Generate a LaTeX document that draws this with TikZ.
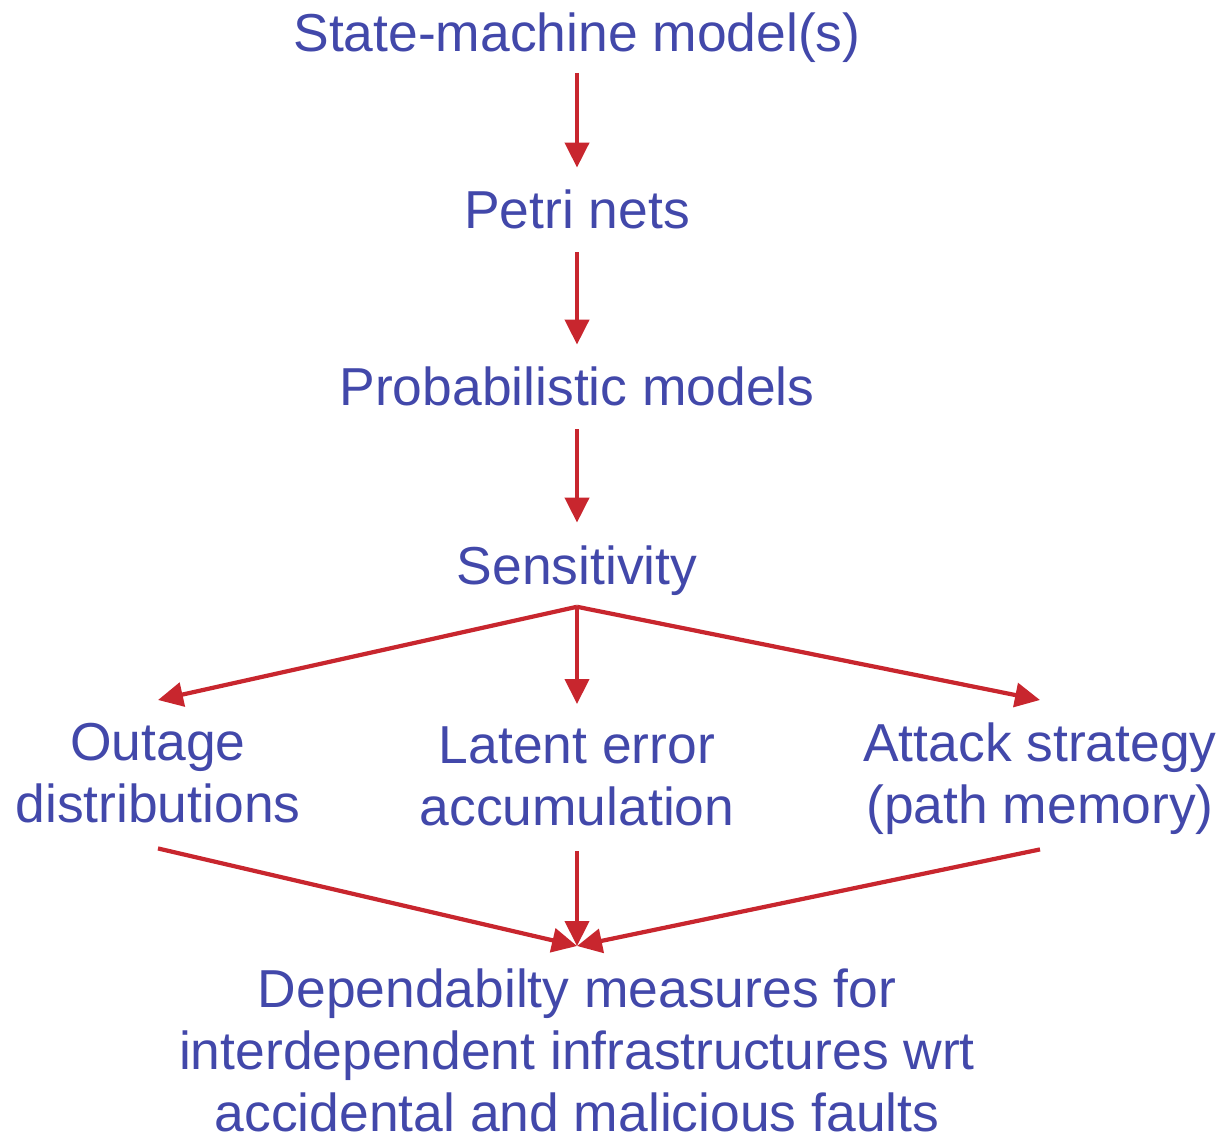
\documentclass[tikz,border=0pt]{standalone}
\usepackage{fontspec}
\setmainfont{Liberation Sans}
\usepackage{xcolor}
\usepackage{tikz}
\usetikzlibrary{arrows.meta}

\definecolor{txtblue}{RGB}{66,72,170}
\definecolor{arrred}{RGB}{200,38,46}

\begin{document}
\begin{tikzpicture}[
    lbl/.style={text=txtblue, inner sep=0pt, align=center, font=\fontsize{15.2}{17.7}\selectfont},
    arr/.style={draw=arrred, line width=1.2pt, -{Triangle[width=0.24cm,length=0.25cm]}},
    gap/.style={shorten <=0.22cm, shorten >=0.22cm}
  ]
      \useasboundingbox (0,0) rectangle (12.22,-11.38);

      % Chain of models
      \node[lbl, anchor=base] (sm) at (5.77,-0.52) {State-machine model(s)};
      \node[lbl, anchor=base] (pn) at (5.77,-2.29) {Petri nets};
      \node[lbl, anchor=base] (pm) at (5.77,-4.06) {Probabilistic models};
      \node[lbl, anchor=base] (sens) at (5.77,-5.84) {Sensitivity};

      % Three branches
      \node[lbl, anchor=north] (out) at (1.58,-7.22) {Outage\\distributions};
      \node[lbl, anchor=north] (lat) at (5.77,-7.26) {Latent error\\accumulation};
      \node[lbl, anchor=north] (att) at (10.40,-7.22) {Attack strategy\\(path memory)};

      % Result
      \node[lbl, anchor=north] (dep) at (5.77,-9.68) {Dependabilty measures for\\interdependent infrastructures wrt\\accidental and malicious faults};

      % Arrow ends
      \coordinate (br) at ([yshift=-0.11cm]sens.south);
      \coordinate (outT) at ([yshift=0.22cm]out.north);
      \coordinate (latT) at ([yshift=0.22cm]lat.north);
      \coordinate (attT) at ([yshift=0.22cm]att.north);
      \coordinate (cv) at ([yshift=0.22cm]dep.north);

      % Draw arrows
      \draw[arr, shorten <=0.09cm, shorten >=0.22cm] (sm) -- (pn);
      \draw[arr, gap] (pn) -- (pm);
      \draw[arr, gap] (pm) -- (sens);

      \draw[arr] (br) -- (outT);
      \draw[arr] (br) -- (latT);
      \draw[arr] (br) -- (attT);

      \draw[arr] ([yshift=-0.25cm]out.south) -- (cv);
      \draw[arr] ([yshift=-0.24cm]lat.south) -- (cv);
      \draw[arr] ([yshift=-0.14cm]att.south) -- (cv);
    \end{tikzpicture}
\end{document}
